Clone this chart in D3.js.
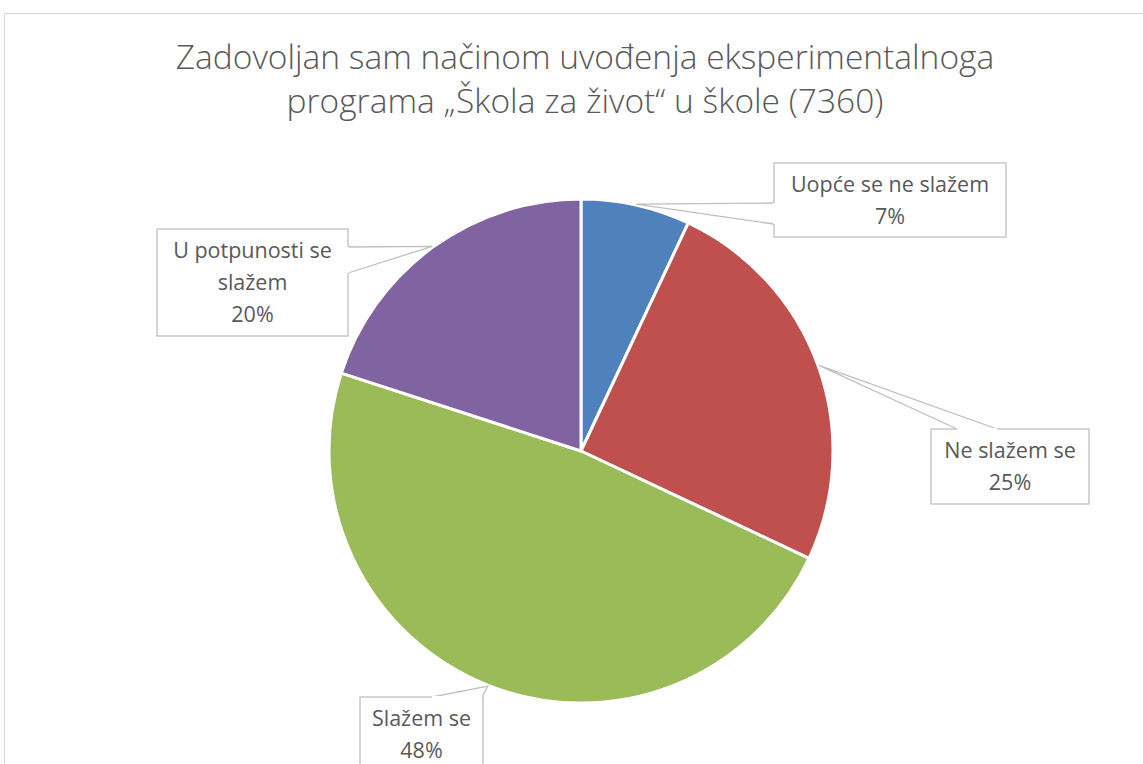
<!doctype html>
<html>
<head>
<meta charset="utf-8">
<script src="https://cdnjs.cloudflare.com/ajax/libs/d3/7.8.5/d3.min.js"></script>
<style>
  body { margin: 0; background: #fff; }
  text { font-family: "Open Sans", "Noto Sans", sans-serif; fill: #595959; }
</style>
</head>
<body>
<script>
var categories = ["Uopće se ne slažem", "Ne slažem se", "Slažem se", "U potpunosti se slažem"];
var values = [7, 25, 48, 20];
var labelLines = [["Uopće se ne slažem"], ["Ne slažem se"], ["Slažem se"], ["U potpunosti se", "slažem"]];
var colors = ["#4F81BD", "#C0504D", "#9BBB59", "#8064A2"];
var titleLines = ["Zadovoljan sam načinom uvođenja eksperimentalnoga", "programa „Škola za život“ u škole (7360)"];

var width = 1143, height = 764;
var cx = 581, cy = 451, radius = 252;

// callout boxes: x, y, w, h, side the pointer leaves from, and where on that side
var boxes = [
  {x: 774, y: 163, w: 232, h: 74, side: "left", a: 203, b: 224},
  {x: 931, y: 429, w: 158, h: 75, side: "top", a: 957, b: 997},
  {x: 360, y: 697, w: 123, h: 74, side: "top", a: 432, b: 482},
  {x: 157, y: 229, w: 191, h: 107, side: "right", a: 247, b: 273}
];

var svg = d3.select("body").append("svg")
  .attr("width", width).attr("height", height);

svg.append("rect")
  .attr("x", 4.5).attr("y", 13.5)
  .attr("width", 1200).attr("height", 800)
  .attr("fill", "#fff").attr("stroke", "#d9d9d9");

svg.selectAll(".title").data(titleLines).enter().append("text")
  .attr("class", "title")
  .attr("x", 585).attr("y", function(d, i) { return 69 + i * 44; })
  .attr("text-anchor", "middle")
  .style("font-size", "33.5px")
  .style("font-weight", 300)
  .text(function(d) { return d; });

var pie = d3.pie().sort(null).value(function(d) { return d; });
var arcs = pie(values);
var arc = d3.arc().innerRadius(0).outerRadius(radius);

var g = svg.append("g").attr("transform", "translate(" + cx + "," + cy + ")");
g.selectAll("path").data(arcs).enter().append("path")
  .attr("d", arc)
  .attr("fill", function(d, i) { return colors[i]; })
  .attr("stroke", "#fff").attr("stroke-width", 3).attr("stroke-linejoin", "round");

// callouts
arcs.forEach(function(d, i) {
  var b = boxes[i];
  var mid = (d.startAngle + d.endAngle) / 2;
  var tx = cx + Math.sin(mid) * (radius + 1), ty = cy - Math.cos(mid) * (radius + 1);
  var p1, p2;
  if (b.side === "left") { p1 = [b.x, b.a]; p2 = [b.x, b.b]; }
  else if (b.side === "right") { p1 = [b.x + b.w, b.a]; p2 = [b.x + b.w, b.b]; }
  else { p1 = [b.a, b.y]; p2 = [b.b, b.y]; }

  var co = svg.append("g");
  co.append("path")
    .attr("d", "M" + p1 + "L" + [tx, ty] + "L" + p2)
    .attr("fill", "#fff").attr("stroke", "#bfbfbf").attr("stroke-width", 1.3);
  co.append("rect")
    .attr("x", b.x).attr("y", b.y).attr("width", b.w).attr("height", b.h)
    .attr("fill", "#fff").attr("stroke", "#bfbfbf").attr("stroke-width", 1.3);
  // cover the join between the pointer and the box
  co.append("line")
    .attr("x1", p1[0]).attr("y1", p1[1]).attr("x2", p2[0]).attr("y2", p2[1])
    .attr("stroke", "#fff").attr("stroke-width", 2);

  var lines = labelLines[i].concat([values[i] + "%"]);
  var lh = 32;
  var top = b.y + b.h / 2 - (lines.length - 1) * lh / 2;
  co.selectAll("text").data(lines).enter().append("text")
    .attr("x", b.x + b.w / 2)
    .attr("y", function(t, j) { return top + j * lh; })
    .attr("dy", "0.35em")
    .attr("text-anchor", "middle")
    .style("font-size", "21.5px")
    .text(function(t) { return t; });
});
</script>
</body>
</html>
